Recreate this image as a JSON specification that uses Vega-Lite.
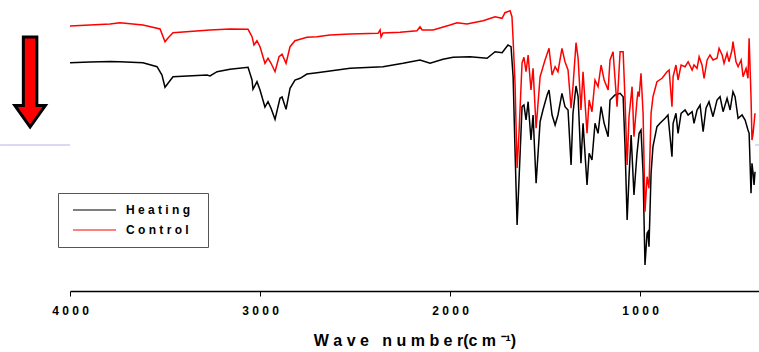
{
  "$schema": "https://vega.github.io/schema/vega-lite/v6.json",
  "width": 689,
  "height": 291,
  "autosize": {"type": "none"},
  "padding": {"left": 70, "top": 0, "right": 0, "bottom": 61},
  "background": "white",
  "config": {
    "view": {"stroke": null},
    "font": "Liberation Sans",
    "axis": {
      "domainColor": "black", "domainWidth": 1.5,
      "tickColor": "black", "tickSize": 5, "tickWidth": 1,
      "labelFont": "Liberation Sans", "labelFontSize": 12, "labelFontWeight": "bold", "labelColor": "black",
      "labelPadding": 9, "labelFlush": false, "grid": false,
      "titleFont": "Liberation Sans", "titleFontSize": 16, "titleFontWeight": "bold", "titleColor": "black", "titlePadding": 16
    }
  },
  "datasets": {
    "guide": [
      {"x1": 4368, "x2": 4000, "y": 147},
      {"x1": 395, "x2": 374, "y": 147}
    ],
    "arrow": [{"x": 4210, "y": 210}],
    "spectra": [
      {"wn": 4000, "t": 229.3, "sample": "Heating"},
      {"wn": 3895, "t": 230, "sample": "Heating"},
      {"wn": 3789, "t": 230.5, "sample": "Heating"},
      {"wn": 3737, "t": 230.3, "sample": "Heating"},
      {"wn": 3616, "t": 229.3, "sample": "Heating"},
      {"wn": 3542, "t": 225.3, "sample": "Heating"},
      {"wn": 3516, "t": 217, "sample": "Heating"},
      {"wn": 3500, "t": 204.7, "sample": "Heating"},
      {"wn": 3484, "t": 208.7, "sample": "Heating"},
      {"wn": 3458, "t": 215.3, "sample": "Heating"},
      {"wn": 3279, "t": 217, "sample": "Heating"},
      {"wn": 3263, "t": 216, "sample": "Heating"},
      {"wn": 3226, "t": 220.3, "sample": "Heating"},
      {"wn": 3158, "t": 222.7, "sample": "Heating"},
      {"wn": 3063, "t": 224.7, "sample": "Heating"},
      {"wn": 3042, "t": 212, "sample": "Heating"},
      {"wn": 3037, "t": 202.7, "sample": "Heating"},
      {"wn": 3016, "t": 210.3, "sample": "Heating"},
      {"wn": 3000, "t": 202, "sample": "Heating"},
      {"wn": 2974, "t": 185, "sample": "Heating"},
      {"wn": 2958, "t": 190.3, "sample": "Heating"},
      {"wn": 2942, "t": 183.7, "sample": "Heating"},
      {"wn": 2921, "t": 172.7, "sample": "Heating"},
      {"wn": 2895, "t": 193.7, "sample": "Heating"},
      {"wn": 2884, "t": 195, "sample": "Heating"},
      {"wn": 2863, "t": 182.7, "sample": "Heating"},
      {"wn": 2842, "t": 203.7, "sample": "Heating"},
      {"wn": 2816, "t": 212, "sample": "Heating"},
      {"wn": 2789, "t": 213.7, "sample": "Heating"},
      {"wn": 2753, "t": 218, "sample": "Heating"},
      {"wn": 2700, "t": 219.3, "sample": "Heating"},
      {"wn": 2632, "t": 221, "sample": "Heating"},
      {"wn": 2526, "t": 223.7, "sample": "Heating"},
      {"wn": 2353, "t": 225.3, "sample": "Heating"},
      {"wn": 2247, "t": 228.7, "sample": "Heating"},
      {"wn": 2158, "t": 232, "sample": "Heating"},
      {"wn": 2105, "t": 228.7, "sample": "Heating"},
      {"wn": 2037, "t": 232.7, "sample": "Heating"},
      {"wn": 1984, "t": 234.7, "sample": "Heating"},
      {"wn": 1895, "t": 235.3, "sample": "Heating"},
      {"wn": 1805, "t": 233.7, "sample": "Heating"},
      {"wn": 1763, "t": 240.3, "sample": "Heating"},
      {"wn": 1726, "t": 239.3, "sample": "Heating"},
      {"wn": 1695, "t": 247, "sample": "Heating"},
      {"wn": 1679, "t": 245.3, "sample": "Heating"},
      {"wn": 1668, "t": 215.3, "sample": "Heating"},
      {"wn": 1658, "t": 142, "sample": "Heating"},
      {"wn": 1647, "t": 67, "sample": "Heating"},
      {"wn": 1637, "t": 112, "sample": "Heating"},
      {"wn": 1621, "t": 185.3, "sample": "Heating"},
      {"wn": 1611, "t": 187, "sample": "Heating"},
      {"wn": 1600, "t": 172, "sample": "Heating"},
      {"wn": 1589, "t": 190.3, "sample": "Heating"},
      {"wn": 1574, "t": 152, "sample": "Heating"},
      {"wn": 1563, "t": 177, "sample": "Heating"},
      {"wn": 1547, "t": 108.7, "sample": "Heating"},
      {"wn": 1526, "t": 170.3, "sample": "Heating"},
      {"wn": 1511, "t": 182, "sample": "Heating"},
      {"wn": 1489, "t": 197, "sample": "Heating"},
      {"wn": 1479, "t": 202, "sample": "Heating"},
      {"wn": 1463, "t": 177, "sample": "Heating"},
      {"wn": 1447, "t": 167, "sample": "Heating"},
      {"wn": 1432, "t": 177, "sample": "Heating"},
      {"wn": 1411, "t": 198.7, "sample": "Heating"},
      {"wn": 1395, "t": 185.3, "sample": "Heating"},
      {"wn": 1379, "t": 182, "sample": "Heating"},
      {"wn": 1363, "t": 127, "sample": "Heating"},
      {"wn": 1353, "t": 178.7, "sample": "Heating"},
      {"wn": 1337, "t": 206, "sample": "Heating"},
      {"wn": 1326, "t": 195.3, "sample": "Heating"},
      {"wn": 1311, "t": 128.7, "sample": "Heating"},
      {"wn": 1300, "t": 168.7, "sample": "Heating"},
      {"wn": 1279, "t": 107, "sample": "Heating"},
      {"wn": 1268, "t": 138.7, "sample": "Heating"},
      {"wn": 1253, "t": 132, "sample": "Heating"},
      {"wn": 1237, "t": 168.7, "sample": "Heating"},
      {"wn": 1221, "t": 158.7, "sample": "Heating"},
      {"wn": 1205, "t": 185.3, "sample": "Heating"},
      {"wn": 1189, "t": 168.7, "sample": "Heating"},
      {"wn": 1168, "t": 155.3, "sample": "Heating"},
      {"wn": 1158, "t": 192, "sample": "Heating"},
      {"wn": 1132, "t": 197, "sample": "Heating"},
      {"wn": 1105, "t": 198.7, "sample": "Heating"},
      {"wn": 1089, "t": 195.3, "sample": "Heating"},
      {"wn": 1079, "t": 145.3, "sample": "Heating"},
      {"wn": 1068, "t": 72, "sample": "Heating"},
      {"wn": 1058, "t": 115.3, "sample": "Heating"},
      {"wn": 1047, "t": 157, "sample": "Heating"},
      {"wn": 1032, "t": 97, "sample": "Heating"},
      {"wn": 1016, "t": 138.7, "sample": "Heating"},
      {"wn": 1005, "t": 158.7, "sample": "Heating"},
      {"wn": 995, "t": 162, "sample": "Heating"},
      {"wn": 984, "t": 118.7, "sample": "Heating"},
      {"wn": 974, "t": 27, "sample": "Heating"},
      {"wn": 963, "t": 58.7, "sample": "Heating"},
      {"wn": 958, "t": 60.3, "sample": "Heating"},
      {"wn": 953, "t": 45.3, "sample": "Heating"},
      {"wn": 942, "t": 118.7, "sample": "Heating"},
      {"wn": 932, "t": 145.3, "sample": "Heating"},
      {"wn": 911, "t": 165.3, "sample": "Heating"},
      {"wn": 895, "t": 168.7, "sample": "Heating"},
      {"wn": 868, "t": 173.7, "sample": "Heating"},
      {"wn": 853, "t": 177, "sample": "Heating"},
      {"wn": 832, "t": 135.3, "sample": "Heating"},
      {"wn": 826, "t": 168.7, "sample": "Heating"},
      {"wn": 811, "t": 178.7, "sample": "Heating"},
      {"wn": 800, "t": 158.7, "sample": "Heating"},
      {"wn": 784, "t": 178.7, "sample": "Heating"},
      {"wn": 763, "t": 182, "sample": "Heating"},
      {"wn": 747, "t": 177, "sample": "Heating"},
      {"wn": 726, "t": 180.3, "sample": "Heating"},
      {"wn": 716, "t": 168.7, "sample": "Heating"},
      {"wn": 700, "t": 182, "sample": "Heating"},
      {"wn": 684, "t": 187, "sample": "Heating"},
      {"wn": 668, "t": 160.3, "sample": "Heating"},
      {"wn": 653, "t": 183.7, "sample": "Heating"},
      {"wn": 637, "t": 190.3, "sample": "Heating"},
      {"wn": 616, "t": 175.3, "sample": "Heating"},
      {"wn": 595, "t": 192, "sample": "Heating"},
      {"wn": 579, "t": 195.3, "sample": "Heating"},
      {"wn": 563, "t": 180.3, "sample": "Heating"},
      {"wn": 542, "t": 193.7, "sample": "Heating"},
      {"wn": 526, "t": 182, "sample": "Heating"},
      {"wn": 511, "t": 200.3, "sample": "Heating"},
      {"wn": 500, "t": 195.3, "sample": "Heating"},
      {"wn": 484, "t": 173.7, "sample": "Heating"},
      {"wn": 463, "t": 177, "sample": "Heating"},
      {"wn": 447, "t": 172, "sample": "Heating"},
      {"wn": 432, "t": 162, "sample": "Heating"},
      {"wn": 426, "t": 158.7, "sample": "Heating"},
      {"wn": 416, "t": 98.7, "sample": "Heating"},
      {"wn": 411, "t": 128.7, "sample": "Heating"},
      {"wn": 405, "t": 118.7, "sample": "Heating"},
      {"wn": 400, "t": 107, "sample": "Heating"},
      {"wn": 395, "t": 120.3, "sample": "Heating"},
      {"wn": 4000, "t": 266, "sample": "Control"},
      {"wn": 3895, "t": 267, "sample": "Control"},
      {"wn": 3789, "t": 268, "sample": "Control"},
      {"wn": 3737, "t": 269.3, "sample": "Control"},
      {"wn": 3616, "t": 267, "sample": "Control"},
      {"wn": 3526, "t": 263, "sample": "Control"},
      {"wn": 3500, "t": 250.3, "sample": "Control"},
      {"wn": 3484, "t": 254, "sample": "Control"},
      {"wn": 3458, "t": 259.3, "sample": "Control"},
      {"wn": 3263, "t": 262, "sample": "Control"},
      {"wn": 3158, "t": 263, "sample": "Control"},
      {"wn": 3063, "t": 262.7, "sample": "Control"},
      {"wn": 3042, "t": 255.3, "sample": "Control"},
      {"wn": 3032, "t": 247, "sample": "Control"},
      {"wn": 3016, "t": 251.3, "sample": "Control"},
      {"wn": 3000, "t": 245.3, "sample": "Control"},
      {"wn": 2974, "t": 228.7, "sample": "Control"},
      {"wn": 2958, "t": 233.7, "sample": "Control"},
      {"wn": 2942, "t": 228.7, "sample": "Control"},
      {"wn": 2921, "t": 220.3, "sample": "Control"},
      {"wn": 2900, "t": 235.3, "sample": "Control"},
      {"wn": 2884, "t": 237.7, "sample": "Control"},
      {"wn": 2863, "t": 228.7, "sample": "Control"},
      {"wn": 2842, "t": 245.3, "sample": "Control"},
      {"wn": 2816, "t": 251.3, "sample": "Control"},
      {"wn": 2789, "t": 252.7, "sample": "Control"},
      {"wn": 2753, "t": 254.7, "sample": "Control"},
      {"wn": 2700, "t": 255.3, "sample": "Control"},
      {"wn": 2632, "t": 257, "sample": "Control"},
      {"wn": 2526, "t": 258, "sample": "Control"},
      {"wn": 2379, "t": 258.7, "sample": "Control"},
      {"wn": 2368, "t": 262, "sample": "Control"},
      {"wn": 2363, "t": 255, "sample": "Control"},
      {"wn": 2353, "t": 259, "sample": "Control"},
      {"wn": 2263, "t": 259.7, "sample": "Control"},
      {"wn": 2174, "t": 261.3, "sample": "Control"},
      {"wn": 2158, "t": 265.3, "sample": "Control"},
      {"wn": 2147, "t": 262, "sample": "Control"},
      {"wn": 2089, "t": 262, "sample": "Control"},
      {"wn": 2000, "t": 267, "sample": "Control"},
      {"wn": 1963, "t": 269.3, "sample": "Control"},
      {"wn": 1911, "t": 268, "sample": "Control"},
      {"wn": 1826, "t": 271.3, "sample": "Control"},
      {"wn": 1763, "t": 275.3, "sample": "Control"},
      {"wn": 1726, "t": 273.7, "sample": "Control"},
      {"wn": 1711, "t": 279.3, "sample": "Control"},
      {"wn": 1684, "t": 281.3, "sample": "Control"},
      {"wn": 1674, "t": 275.3, "sample": "Control"},
      {"wn": 1668, "t": 252, "sample": "Control"},
      {"wn": 1658, "t": 209, "sample": "Control"},
      {"wn": 1647, "t": 124, "sample": "Control"},
      {"wn": 1637, "t": 159, "sample": "Control"},
      {"wn": 1621, "t": 229, "sample": "Control"},
      {"wn": 1611, "t": 234.7, "sample": "Control"},
      {"wn": 1600, "t": 220.3, "sample": "Control"},
      {"wn": 1589, "t": 237, "sample": "Control"},
      {"wn": 1574, "t": 202, "sample": "Control"},
      {"wn": 1563, "t": 223.7, "sample": "Control"},
      {"wn": 1547, "t": 163.7, "sample": "Control"},
      {"wn": 1526, "t": 215.3, "sample": "Control"},
      {"wn": 1500, "t": 232, "sample": "Control"},
      {"wn": 1479, "t": 243.7, "sample": "Control"},
      {"wn": 1463, "t": 217, "sample": "Control"},
      {"wn": 1447, "t": 225.3, "sample": "Control"},
      {"wn": 1432, "t": 220.3, "sample": "Control"},
      {"wn": 1411, "t": 243.7, "sample": "Control"},
      {"wn": 1395, "t": 230.3, "sample": "Control"},
      {"wn": 1379, "t": 222, "sample": "Control"},
      {"wn": 1363, "t": 183.7, "sample": "Control"},
      {"wn": 1353, "t": 205.3, "sample": "Control"},
      {"wn": 1337, "t": 249.3, "sample": "Control"},
      {"wn": 1326, "t": 233.7, "sample": "Control"},
      {"wn": 1311, "t": 182, "sample": "Control"},
      {"wn": 1300, "t": 220.3, "sample": "Control"},
      {"wn": 1279, "t": 158.7, "sample": "Control"},
      {"wn": 1268, "t": 192, "sample": "Control"},
      {"wn": 1253, "t": 180.3, "sample": "Control"},
      {"wn": 1237, "t": 212, "sample": "Control"},
      {"wn": 1221, "t": 205.3, "sample": "Control"},
      {"wn": 1205, "t": 227, "sample": "Control"},
      {"wn": 1189, "t": 212, "sample": "Control"},
      {"wn": 1168, "t": 202, "sample": "Control"},
      {"wn": 1158, "t": 232, "sample": "Control"},
      {"wn": 1142, "t": 240.3, "sample": "Control"},
      {"wn": 1121, "t": 185.3, "sample": "Control"},
      {"wn": 1105, "t": 240.3, "sample": "Control"},
      {"wn": 1089, "t": 240.3, "sample": "Control"},
      {"wn": 1079, "t": 192, "sample": "Control"},
      {"wn": 1068, "t": 127, "sample": "Control"},
      {"wn": 1058, "t": 175.3, "sample": "Control"},
      {"wn": 1042, "t": 205.3, "sample": "Control"},
      {"wn": 1032, "t": 155.3, "sample": "Control"},
      {"wn": 1016, "t": 192, "sample": "Control"},
      {"wn": 1011, "t": 200.3, "sample": "Control"},
      {"wn": 1005, "t": 195.3, "sample": "Control"},
      {"wn": 995, "t": 218.7, "sample": "Control"},
      {"wn": 984, "t": 178.7, "sample": "Control"},
      {"wn": 974, "t": 80.3, "sample": "Control"},
      {"wn": 963, "t": 115.3, "sample": "Control"},
      {"wn": 953, "t": 103.7, "sample": "Control"},
      {"wn": 942, "t": 178.7, "sample": "Control"},
      {"wn": 932, "t": 195.3, "sample": "Control"},
      {"wn": 911, "t": 210.3, "sample": "Control"},
      {"wn": 884, "t": 213.7, "sample": "Control"},
      {"wn": 858, "t": 220.3, "sample": "Control"},
      {"wn": 847, "t": 222, "sample": "Control"},
      {"wn": 832, "t": 185.3, "sample": "Control"},
      {"wn": 826, "t": 215.3, "sample": "Control"},
      {"wn": 811, "t": 227, "sample": "Control"},
      {"wn": 800, "t": 212, "sample": "Control"},
      {"wn": 784, "t": 227, "sample": "Control"},
      {"wn": 763, "t": 225.3, "sample": "Control"},
      {"wn": 747, "t": 230.3, "sample": "Control"},
      {"wn": 726, "t": 222, "sample": "Control"},
      {"wn": 716, "t": 227, "sample": "Control"},
      {"wn": 700, "t": 223.7, "sample": "Control"},
      {"wn": 689, "t": 235.3, "sample": "Control"},
      {"wn": 674, "t": 227, "sample": "Control"},
      {"wn": 663, "t": 213.7, "sample": "Control"},
      {"wn": 647, "t": 232, "sample": "Control"},
      {"wn": 632, "t": 237, "sample": "Control"},
      {"wn": 616, "t": 232, "sample": "Control"},
      {"wn": 595, "t": 233.7, "sample": "Control"},
      {"wn": 584, "t": 243.7, "sample": "Control"},
      {"wn": 568, "t": 237, "sample": "Control"},
      {"wn": 558, "t": 228.7, "sample": "Control"},
      {"wn": 542, "t": 238.7, "sample": "Control"},
      {"wn": 532, "t": 230.3, "sample": "Control"},
      {"wn": 516, "t": 242, "sample": "Control"},
      {"wn": 511, "t": 250.3, "sample": "Control"},
      {"wn": 495, "t": 230.3, "sample": "Control"},
      {"wn": 484, "t": 225.3, "sample": "Control"},
      {"wn": 468, "t": 232, "sample": "Control"},
      {"wn": 458, "t": 215.3, "sample": "Control"},
      {"wn": 442, "t": 223.7, "sample": "Control"},
      {"wn": 432, "t": 213.7, "sample": "Control"},
      {"wn": 426, "t": 253.7, "sample": "Control"},
      {"wn": 416, "t": 195.3, "sample": "Control"},
      {"wn": 411, "t": 152, "sample": "Control"},
      {"wn": 405, "t": 158.7, "sample": "Control"},
      {"wn": 395, "t": 178.7, "sample": "Control"}
    ]
  },
  "layer": [
    {
      "data": {"name": "guide"},
      "mark": {"type": "rule", "color": "#b4b4f0", "strokeWidth": 1, "clip": false},
      "encoding": {
        "x": {
          "field": "x1", "type": "quantitative",
          "scale": {"domain": [4000, 374], "nice": false, "zero": false},
          "axis": {
            "values": [4000, 3000, 2000, 1000],
            "title": "W a v e\u00a0\u00a0 n u m b e r(c m ⁻¹)",
            "labelExpr": "datum.value == 4000 ? '4\u00a00\u00a00\u00a00' : datum.value == 3000 ? '3\u00a00\u00a00\u00a00' : datum.value == 2000 ? '2\u00a00\u00a00\u00a00' : '1\u00a00\u00a00\u00a00'"
          }
        },
        "x2": {"field": "x2"},
        "y": {"field": "y", "type": "quantitative", "scale": {"domain": [1, 292], "nice": false, "zero": false}, "axis": null}
      }
    },
    {
      "data": {"name": "spectra"},
      "mark": {"type": "line", "strokeWidth": 1.5, "clip": false},
      "encoding": {
        "x": {
          "field": "wn", "type": "quantitative",
          "scale": {"domain": [4000, 374], "nice": false, "zero": false},
          "axis": {
            "values": [4000, 3000, 2000, 1000],
            "title": "W a v e\u00a0\u00a0 n u m b e r(c m ⁻¹)",
            "labelExpr": "datum.value == 4000 ? '4\u00a00\u00a00\u00a00' : datum.value == 3000 ? '3\u00a00\u00a00\u00a00' : datum.value == 2000 ? '2\u00a00\u00a00\u00a00' : '1\u00a00\u00a00\u00a00'"
          }
        },
        "y": {"field": "t", "type": "quantitative", "scale": {"domain": [1, 292], "nice": false, "zero": false}, "axis": null},
        "color": {
          "field": "sample", "type": "nominal",
          "scale": {"domain": ["Heating", "Control"], "range": ["#000000", "#ff0000"]},
          "legend": {
            "orient": "none", "legendX": -12, "legendY": 193,
            "title": null,
            "symbolType": "stroke", "symbolSize": 1849, "symbolStrokeWidth": 1.2,
            "clipHeight": 18, "symbolOffset": 6, "labelOffset": 9,
            "padding": 8, "strokeColor": "#555555", "fillColor": "white",
            "labelFont": "Liberation Sans", "labelFontSize": 12, "labelFontWeight": "bold", "labelColor": "black",
            "labelExpr": "datum.label == 'Heating' ? 'H e a t i n g\u00a0\u00a0\u2009\u200b' : 'C o n t r o l\u00a0\u00a0\u2009\u200b'"
          }
        }
      }
    },
    {
      "data": {"name": "arrow"},
      "mark": {
        "type": "point",
        "shape": "M-0.15,-1L0.15,-1L0.15,0.52L0.34,0.52L0,1L-0.34,0.52L-0.15,0.52Z",
        "size": 8100, "filled": true, "fill": "#ff0000", "stroke": "#000000", "strokeWidth": 3,
        "opacity": 1, "clip": false
      },
      "encoding": {
        "x": {
          "field": "x", "type": "quantitative",
          "scale": {"domain": [4000, 374], "nice": false, "zero": false},
          "axis": {
            "values": [4000, 3000, 2000, 1000],
            "title": "W a v e\u00a0\u00a0 n u m b e r(c m ⁻¹)",
            "labelExpr": "datum.value == 4000 ? '4\u00a00\u00a00\u00a00' : datum.value == 3000 ? '3\u00a00\u00a00\u00a00' : datum.value == 2000 ? '2\u00a00\u00a00\u00a00' : '1\u00a00\u00a00\u00a00'"
          }
        },
        "y": {"field": "y", "type": "quantitative", "scale": {"domain": [1, 292], "nice": false, "zero": false}, "axis": null}
      }
    }
  ]
}
